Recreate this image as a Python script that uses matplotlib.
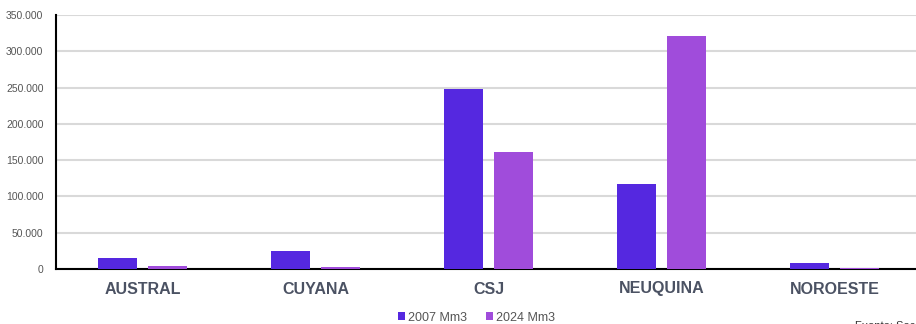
import numpy as np
import matplotlib
matplotlib.use('Agg')
import matplotlib.pyplot as plt

plt.rcParams['font.family'] = ['Liberation Sans', 'DejaVu Sans']

cuencas = ['AUSTRAL', 'CUYANA', 'CSJ', 'NEUQUINA', 'NOROESTE']
prod_2007 = [15000, 25000, 248000, 117000, 8300]
prod_2024 = [4500, 2200, 161000, 321000, 1800]
yticks = [0, 50000, 100000, 150000, 200000, 250000, 300000, 350000]
ytick_labels = ['0', '50.000', '100.000', '150.000', '200.000', '250.000', '300.000', '350.000']

c2007 = '#5528e0'
c2024 = '#a04cdb'

fig = plt.figure(figsize=(9.16, 3.24), dpi=100)
ax = fig.add_axes([56/916, 55/324, 865/916, 254/324])

x = np.arange(len(cuencas))
w = 0.225
ax.bar(x - 0.142, prod_2007, w, color=c2007, label='2007 Mm3', zorder=3)
ax.bar(x + 0.142, prod_2024, w, color=c2024, label='2024 Mm3', zorder=3)

ax.set_xlim(-0.5, 4.5)
ax.set_ylim(0, 350000)
ax.set_yticks(yticks)
ax.set_yticklabels(ytick_labels)
ax.set_xticks(x)
ax.set_xticklabels(cuencas, fontsize=11.5, fontweight='bold', color='#4b5263')
ax.tick_params(axis='y', length=0, labelsize=7.5, labelcolor='#555555', pad=9)
ax.tick_params(axis='x', length=0, pad=9)
ax.grid(axis='y', color='#d9d9d9', linewidth=1.5, zorder=0)

for s in ['top', 'right']:
    ax.spines[s].set_visible(False)
ax.spines['left'].set_color('black')
ax.spines['left'].set_linewidth(1.5)
ax.spines['bottom'].set_color('black')
ax.spines['bottom'].set_linewidth(1.5)
ax.spines['bottom'].set_zorder(2)

fig.legend(loc='center', bbox_to_anchor=(0.52, 0.02), ncol=2, frameon=False,
           fontsize=9, handlelength=0.6, handleheight=0.6, handletextpad=0.2,
           columnspacing=1.5, labelcolor='#555555')

# nota de fuente, recortada en el borde inferior
fig.text(855/916, 0.008, 'Fuente: Secretaría de Energía', va='top', fontsize=8, color='#333333')

fig.savefig('out.png', dpi=100)
plt.close(fig)
